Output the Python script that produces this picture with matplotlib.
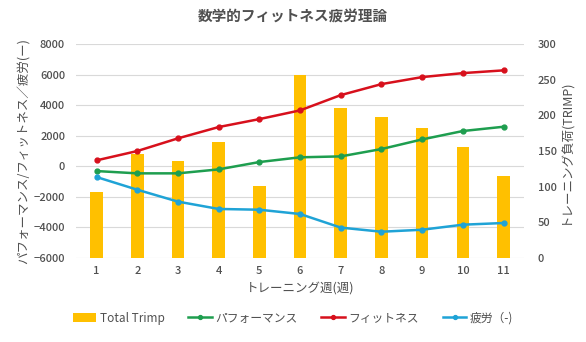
import matplotlib
matplotlib.use("Agg")
import matplotlib.pyplot as plt
import numpy as np

plt.rcParams['font.family'] = ['Noto Sans CJK JP', 'DejaVu Sans']

weeks = [1, 2, 3, 4, 5, 6, 7, 8, 9, 10, 11]
week_labels = [str(w) for w in weeks]
total_trimp = [93, 146, 136, 162, 101, 257, 210, 198, 182, 156, 115]
performance = [-310, -460, -460, -200, 280, 590, 650, 1130, 1760, 2310, 2590]
fitness = [390, 1000, 1830, 2570, 3090, 3660, 4660, 5380, 5840, 6100, 6280]
fatigue = [-700, -1530, -2310, -2790, -2840, -3120, -4010, -4280, -4150, -3820, -3710]

TXT = '#505050'
fig = plt.figure(figsize=(5.86, 3.42), dpi=100)
ax = fig.add_axes([0.130, 0.2456, 0.764, 0.6255])
ax2 = ax.twinx()

x = np.arange(len(weeks))
ax2.bar(x, total_trimp, width=0.31, color='#FFC000', label='Total Trimp', zorder=2)
ax2.set_ylim(0, 300)
ax2.set_yticks(range(0, 301, 50))

ax.set_zorder(ax2.get_zorder() + 1)
ax.patch.set_visible(False)
ax2.patch.set_visible(True)

l1, = ax.plot(x, performance, color='#1E9E4F', lw=1.8, marker='o', ms=3.5, label='パフォーマンス', zorder=3)
l2, = ax.plot(x, fitness, color='#D7101C', lw=1.8, marker='o', ms=3.5, label='フィットネス', zorder=3)
l3, = ax.plot(x, fatigue, color='#1FA3D6', lw=1.8, marker='o', ms=3.5, label='疲労（-)', zorder=3)

ax.set_ylim(-6000, 8000)
ax.set_yticks(range(-6000, 8001, 2000))
ax.set_xlim(-0.5, len(weeks) - 0.5)
ax.set_xticks(x)
ax.set_xticklabels(week_labels)

for a in (ax, ax2):
    for s in a.spines.values():
        s.set_visible(False)
    a.tick_params(length=0, colors=TXT, labelsize=8)
    for t in a.get_xticklabels() + a.get_yticklabels():
        t.set_fontweight('medium')
ax2.grid(False)
for yv in range(-6000, 8001, 2000):
    ax2.axhline((yv + 6000) / 14000 * 300, color='#D9D9D9', lw=0.8, zorder=0)

ax.tick_params(axis='y', pad=8)
ax.tick_params(axis='x', pad=6)
ax2.tick_params(axis='y', pad=10)

ax.set_xlabel('トレーニング週(週)', color=TXT, fontsize=9, labelpad=4)
ax.set_ylabel('パフォーマンス/フィットネス／疲労(ー)', color=TXT, fontsize=9, labelpad=2)
ax2.set_ylabel('トレーニング負荷(TRIMP)', color=TXT, fontsize=9, labelpad=2)

fig.suptitle('数学的フィットネス疲労理論', x=0.5, y=0.975, fontsize=10.5, fontweight='bold', color=TXT)

bars = ax2.containers[0]
fig.legend([bars, l1, l2, l3], ['Total Trimp', 'パフォーマンス', 'フィットネス', '疲労（-)'],
           loc='center', bbox_to_anchor=(0.5, 0.07), ncol=4, frameon=False,
           fontsize=8.5, labelcolor=TXT, handlelength=2.0, columnspacing=2.0, handletextpad=0.3,
           markerscale=0.8)

fig.savefig('out.png', dpi=100)
